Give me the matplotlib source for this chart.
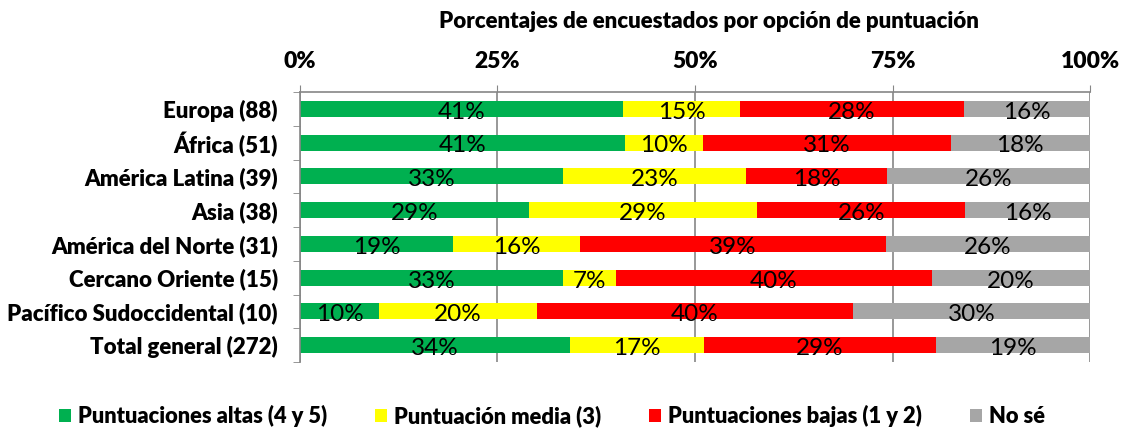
import numpy as np
import matplotlib
matplotlib.use("Agg")
import matplotlib.pyplot as plt
from matplotlib.patches import Patch

plt.rcParams['font.family'] = ['Lato', 'DejaVu Sans']
BOLD = 'heavy'

regions = ['Europa (88)', 'África (51)', 'América Latina (39)', 'Asia (38)',
           'América del Norte (31)', 'Cercano Oriente (15)',
           'Pacífico Sudoccidental (10)', 'Total general (272)']
# respondent counts per rating option
altas = [36, 21, 13, 11, 6, 5, 1, 93]
media = [13, 5, 9, 11, 5, 1, 2, 46]
bajas = [25, 16, 7, 10, 12, 6, 4, 80]
no_se = [14, 9, 10, 6, 8, 3, 3, 53]

series = ['Puntuaciones altas (4 y 5)', 'Puntuación media (3)',
          'Puntuaciones bajas (1 y 2)', 'No sé']
colors = ['#00B050', '#FFFF00', '#FF0000', '#A6A6A6']
xticks = [0, 25, 50, 75, 100]

counts = np.array([altas, media, bajas, no_se], dtype=float)
pct = counts / counts.sum(axis=0) * 100

fig = plt.figure(figsize=(11.24, 4.29), dpi=100)
ax = fig.add_axes([300 / 1124, 1 - 362 / 429, 790 / 1124, 270 / 429])

y = np.arange(len(regions))
left = np.zeros(len(regions))
for vals, col in zip(pct, colors):
    ax.barh(y, vals, left=left, height=0.47, color=col, zorder=2)
    for yi, (l, v) in enumerate(zip(left, vals)):
        ax.text(l + v / 2, yi + 0.1, f'{v:.0f}%', ha='center', va='center',
                fontsize=17.5, color='black', zorder=3)
    left += vals

ax.set_xlim(0, 100)
ax.set_ylim(len(regions) - 0.5, -0.5)
ax.xaxis.tick_top()
ax.set_xticks(xticks)
ax.set_xticklabels([f'{t}%' for t in xticks], fontsize=16.5, fontweight=BOLD)
ax.tick_params(axis='x', length=5, color='#868686', pad=9.5)
ax.set_yticks(y)
ax.set_yticklabels(regions, fontsize=16, fontweight=BOLD)
ax.set_yticks(np.arange(-0.5, len(regions)), minor=True)
ax.tick_params(axis='y', which='major', length=0, pad=16)
ax.tick_params(axis='y', which='minor', length=5, color='#868686')
ax.grid(axis='x', color='#868686', linewidth=1.2, zorder=0)
for s in ['right', 'bottom']:
    ax.spines[s].set_visible(False)
for s in ['top', 'left']:
    ax.spines[s].set_color('#868686')
    ax.spines[s].set_linewidth(1.2)

fig.text(709 / 1124, 1 - 22 / 429, 'Porcentajes de encuestados por opción de puntuación',
         ha='center', va='center', fontsize=16, fontweight=BOLD)

handles = [Patch(facecolor=c, label=s) for s, c in zip(series, colors)]
fig.legend(handles=handles, loc='center', bbox_to_anchor=(552 / 1124, 1 - 416 / 429),
           ncol=4, frameon=False, prop={'size': 15.75, 'weight': BOLD},
           handlelength=0.55, handleheight=0.55, columnspacing=2.2,
           handletextpad=0.32, borderpad=0, borderaxespad=0)

fig.savefig('out.png', dpi=100)
